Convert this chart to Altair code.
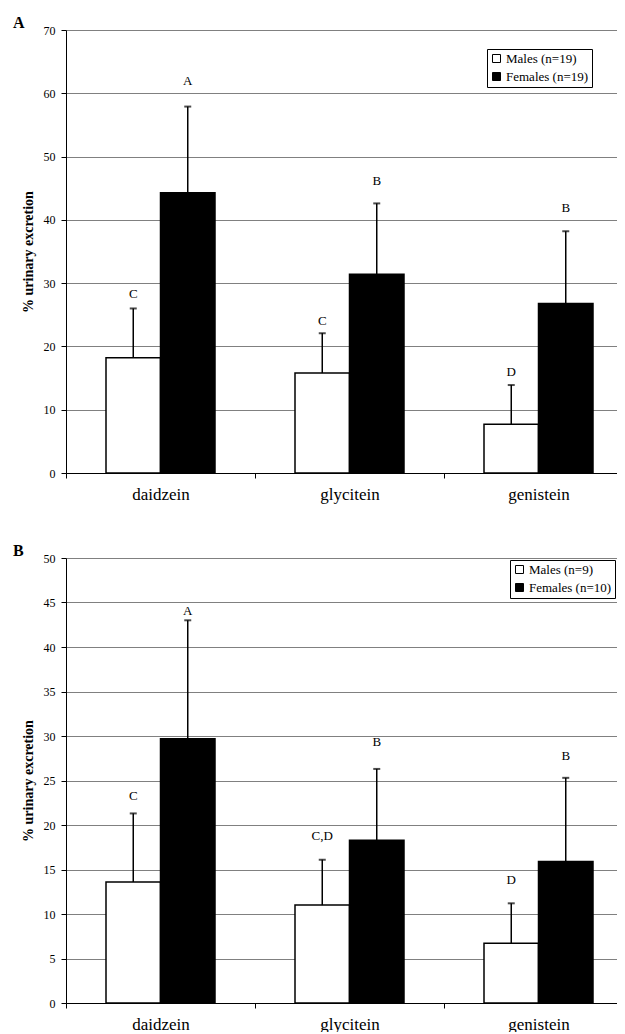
import altair as alt
import pandas as pd

compounds = ["daidzein", "glycitein", "genistein"]

# Panel A
a_groups = ["Males (n=19)", "Females (n=19)"]
a_male_mean = [18.2, 15.8, 7.7]
a_male_sd = [7.8, 6.3, 6.2]
a_female_mean = [44.3, 31.4, 26.8]
a_female_sd = [13.6, 11.2, 11.4]
a_male_letters = ["C", "C", "D"]
a_female_letters = ["A", "B", "B"]
a_male_letter_y = [28.3, 24.0, 15.9]
a_female_letter_y = [61.9, 46.1, 41.9]
a_ticks = [0, 10, 20, 30, 40, 50, 60, 70]

# Panel B
b_groups = ["Males (n=9)", "Females (n=10)"]
b_male_mean = [13.6, 11.0, 6.7]
b_male_sd = [7.7, 5.1, 4.5]
b_female_mean = [29.7, 18.3, 15.9]
b_female_sd = [13.3, 8.0, 9.4]
b_male_letters = ["C", "C,D", "D"]
b_female_letters = ["A", "B", "B"]
b_male_letter_y = [23.3, 18.8, 13.8]
b_female_letter_y = [44.0, 29.3, 27.8]
b_ticks = [0, 5, 10, 15, 20, 25, 30, 35, 40, 45, 50]

SERIF = "Liberation Serif, Times New Roman, serif"


def build_df(groups, m_mean, m_sd, f_mean, f_sd, m_let, f_let, m_ly, f_ly):
    rows = []
    for i, c in enumerate(compounds):
        rows.append(dict(compound=c, sex="M", group=groups[0], mean=m_mean[i],
                         upper=m_mean[i] + m_sd[i], letter=m_let[i], letter_y=m_ly[i]))
        rows.append(dict(compound=c, sex="F", group=groups[1], mean=f_mean[i],
                         upper=f_mean[i] + f_sd[i], letter=f_let[i], letter_y=f_ly[i]))
    return pd.DataFrame(rows)


def panel(df, groups, ymax, ticks, label, height, lx, ly):
    x = alt.X("compound:N", sort=compounds,
              scale=alt.Scale(paddingInner=0, paddingOuter=0),
              axis=alt.Axis(title=None, labelAngle=0, tickBand="extent",
                            labelFont=SERIF, labelFontSize=17, labelColor="black",
                            labelPadding=8, tickSize=5, tickColor="black",
                            domainColor="black", grid=False))
    xo = alt.XOffset("sex:N", sort=["M", "F"],
                     scale=alt.Scale(paddingInner=0, paddingOuter=0.734))
    y_scale = alt.Scale(domain=[0, ymax], nice=False)
    y_axis = alt.Axis(title="% urinary excretion", titleFont=SERIF, titleFontSize=14,
                      titleFontWeight="bold", titleColor="black", titlePadding=8,
                      values=ticks, format="d", labelFont=SERIF, labelFontSize=12,
                      labelColor="black", labelPadding=6, tickSize=5, tickColor="black",
                      domainColor="black", gridColor="#808080", gridWidth=1.2)

    def Y(field):
        return alt.Y(field, scale=y_scale, axis=y_axis)

    base = alt.Chart(df)
    bars = base.mark_bar(stroke="black", strokeWidth=1.5).encode(
        x=x, xOffset=xo, y=Y("mean:Q"),
        color=alt.Color("group:N", sort=groups,
                        scale=alt.Scale(domain=groups, range=["white", "black"]),
                        legend=alt.Legend(title=None, orient="none", legendX=lx, legendY=ly,
                                          direction="vertical", strokeColor="black",
                                          padding=3, fillColor="white",
                                          labelFont=SERIF, labelFontSize=13,
                                          labelColor="black", symbolType="square",
                                          symbolSize=64, symbolStrokeColor="black",
                                          symbolStrokeWidth=1, rowPadding=4,
                                          labelOffset=3, cornerRadius=0)))
    err = base.mark_rule(color="black", strokeWidth=1.5).encode(
        x=x, xOffset=xo, y=Y("mean:Q"), y2="upper:Q")
    caps = base.mark_tick(color="black", size=7, thickness=2, orient="horizontal").encode(
        x=x, xOffset=xo, y=Y("upper:Q"))
    letters = base.mark_text(font=SERIF, fontSize=13, color="black", baseline="middle").encode(
        x=x, xOffset=xo, y=Y("letter_y:Q"), text="letter:N")
    plabel = alt.Chart(pd.DataFrame({"panel": [label]})).mark_text(
        font=SERIF, fontSize=16, fontWeight="bold", align="left",
        baseline="alphabetic", color="black").encode(
        x=alt.value(-53), y=alt.value(-2), text="panel:N")
    return alt.layer(bars, err, caps, letters, plabel).properties(width=567, height=height)


df_a = build_df(a_groups, a_male_mean, a_male_sd, a_female_mean, a_female_sd,
                a_male_letters, a_female_letters, a_male_letter_y, a_female_letter_y)
df_b = build_df(b_groups, b_male_mean, b_male_sd, b_female_mean, b_female_sd,
                b_male_letters, b_female_letters, b_male_letter_y, b_female_letter_y)

pa = panel(df_a, a_groups, 70, a_ticks, "A", 443, 421, 19)
pb = panel(df_b, b_groups, 50, b_ticks, "B", 445, 444, 2)

chart = alt.vconcat(pa, pb, spacing=41).resolve_scale(
    x="independent", y="independent", color="independent", xOffset="independent"
).resolve_legend(color="independent").properties(
    padding={"top": 7, "left": 5, "right": -17, "bottom": 0}, background="white"
).configure_view(stroke=None)

chart.save("out.html", embed_options={"renderer": "svg", "actions": False})
